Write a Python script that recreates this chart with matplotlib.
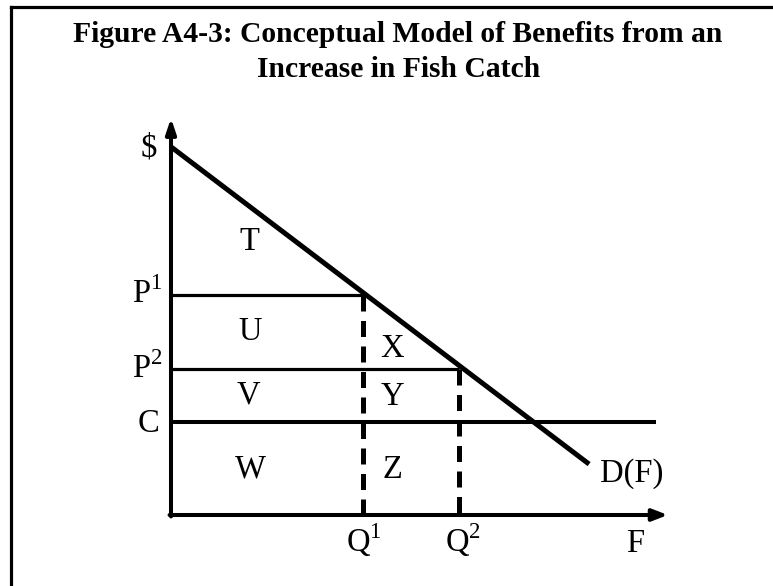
import matplotlib
matplotlib.use("Agg")
import matplotlib.pyplot as plt
from matplotlib.lines import Line2D

plt.rcParams['font.family'] = ['Liberation Serif', 'DejaVu Serif']
plt.rcParams['mathtext.fontset'] = 'custom'
plt.rcParams['mathtext.rm'] = 'Liberation Serif'

# diagram values (F on x, $ on y)
q1, q2 = 4.0, 6.0
p1, p2 = 4.58, 3.04
cost = 1.94
demand_f = [0.0, 8.71]
demand_p = [7.67, 1.06]
cost_end = 10.1
f_max, p_max = 10.35, 8.27

area_labels = ["T", "U", "V", "W", "X", "Y", "Z"]
area_x = [1.63, 1.65, 1.62, 1.65, 4.6, 4.62, 4.62]
area_y = [5.52, 3.65, 2.33, 0.79, 3.29, 2.29, 0.77]

fig = plt.figure(figsize=(7.73, 5.86), dpi=100)
ax = fig.add_axes([0, 0, 1, 1])
ax.set_xlim(-171 / 48, (773 - 171) / 48)
ax.set_ylim(-(586 - 515) / 48, 515 / 48)
ax.axis("off")

# frame round the figure (open at right and bottom)
fig.add_artist(Line2D([10.5 / 773, 10.5 / 773], [0, 1 - 7 / 586], color="black", lw=2.3))
fig.add_artist(Line2D([10.5 / 773, 1], [1 - 7 / 586, 1 - 7 / 586], color="black", lw=2.3))

fig.text(398 / 773, 1 - 42 / 586, "Figure A4-3: Conceptual Model of Benefits from an",
         ha="center", va="baseline", fontsize=21.3, fontweight="bold")
fig.text(399 / 773, 1 - 77 / 586, "Increase in Fish Catch",
         ha="center", va="baseline", fontsize=21.3, fontweight="bold")

# axes with arrows
ax.annotate("", xy=(0, p_max), xytext=(0, -0.03),
            arrowprops=dict(arrowstyle="-|>,head_length=0.9,head_width=0.3", lw=2.9, color="black",
                            shrinkA=0, shrinkB=0))
ax.annotate("", xy=(f_max, 0), xytext=(-0.03, 0),
            arrowprops=dict(arrowstyle="-|>,head_length=0.9,head_width=0.35", lw=2.9, color="black",
                            shrinkA=0, shrinkB=0))

# price lines and cost line
ax.plot([0, q1], [p1, p1], color="black", lw=2.3, solid_capstyle="butt")
ax.plot([0, q2], [p2, p2], color="black", lw=2.3, solid_capstyle="butt")
ax.plot([0, cost_end], [cost, cost], color="black", lw=2.9, solid_capstyle="butt")

# dashed quantity lines
ax.plot([q1, q1], [p1, 0], color="black", lw=3.6, dashes=(3.2, 1.9))
ax.plot([q2, q2], [p2, 0], color="black", lw=3.6, dashes=(3.2, 1.9))

# demand curve
ax.plot(demand_f, demand_p, color="black", lw=3.6, solid_capstyle="butt")

fs = 23.5
for lab, x, y in zip(area_labels, area_x, area_y):
    ax.text(x, y, lab, ha="center", va="baseline", fontsize=fs)

ax.text(-0.47, 7.46, "$", ha="center", va="baseline", fontsize=fs)
ax.text(-0.18, 4.42, r"$\mathrm{P}^{1}$", ha="right", va="baseline", fontsize=fs)
ax.text(-0.17, 2.85, r"$\mathrm{P}^{2}$", ha="right", va="baseline", fontsize=fs)
ax.text(-0.46, 1.73, "C", ha="center", va="baseline", fontsize=fs)
ax.text(q1 + 0.01, -0.77, r"$\mathrm{Q}^{1}$", ha="center", va="baseline", fontsize=fs)
ax.text(q2 + 0.08, -0.77, r"$\mathrm{Q}^{2}$", ha="center", va="baseline", fontsize=fs)
ax.text(9.67, -0.77, "F", ha="center", va="baseline", fontsize=fs)
ax.text(8.94, 0.69, "D(F)", ha="left", va="baseline", fontsize=fs)

fig.savefig("out.png", dpi=100)
